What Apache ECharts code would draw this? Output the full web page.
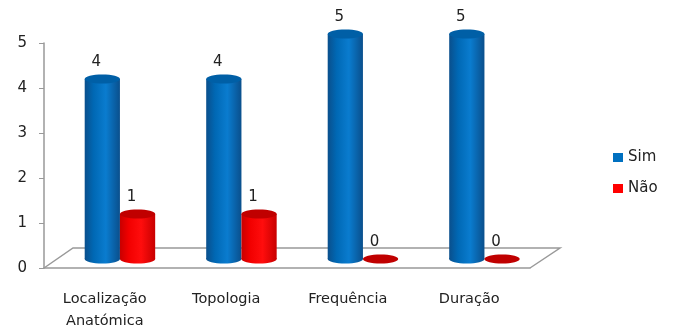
<!DOCTYPE html>
<html>
<head>
<meta charset="utf-8">
<script src="https://cdn.jsdelivr.net/npm/echarts@6/dist/echarts.min.js"></script>
<style>
  html, body { margin: 0; padding: 0; background: #fff; }
  #chart { width: 673px; height: 332px; }
</style>
</head>
<body>
<div id="chart"></div>
<script>
// dados
var categories = ['Localização\nAnatómica', 'Topologia', 'Frequência', 'Duração'];
var simValues = [4, 4, 5, 5];
var naoValues = [1, 1, 0, 0];
var yTicks = [0, 1, 2, 3, 4, 5];

function pairs(vals) {
    return vals.map(function (v, i) { return [i, v]; });
}

// cilindro 3D (custom series)
function cylinder(side, c) {
    return function (params, api) {
        var cat = api.value(0), v = api.value(1);
        var base = api.coord([cat, 0]);
        var top = api.coord([cat, v]);
        var band = api.size([1, 0])[0];
        var w = band * 0.29;
        var cx = base[0] + band * 0.125 + side * w / 2;
        var lift = 9;
        var yb = base[1] - lift, yt = top[1] - lift;
        var rx = w / 2, ry = 4.5;
        var grad = new echarts.graphic.LinearGradient(0, 0, 1, 0, [
            { offset: 0, color: c.edge },
            { offset: 0.25, color: c.body },
            { offset: 0.6, color: c.light },
            { offset: 1, color: c.edge }
        ]);
        var children = [];
        if (v > 0) {
            children.push({ type: 'ellipse', shape: { cx: cx, cy: yb, rx: rx, ry: ry }, style: { fill: grad } });
            children.push({ type: 'rect', shape: { x: cx - rx, y: yt, width: w, height: yb - yt }, style: { fill: grad } });
            children.push({ type: 'ellipse', shape: { cx: cx, cy: yt, rx: rx, ry: ry }, style: { fill: c.top } });
        } else {
            children.push({ type: 'ellipse', shape: { cx: cx, cy: yt, rx: rx, ry: ry }, style: { fill: c.top } });
        }
        children.push({
            type: 'text',
            style: {
                text: String(v), x: cx - 6, y: yt - 9,
                align: 'center', verticalAlign: 'bottom',
                fill: '#222', font: '15px "DejaVu Sans"'
            }
        });
        return { type: 'group', children: children };
    };
}

// chão 3D
function floor(params, api) {
    var band = api.size([1, 0])[0];
    var p0 = api.coord([0, 0]);
    var p3 = api.coord([categories.length - 1, 0]);
    var xl = p0[0] - band / 2, xr = p3[0] + band / 2, y = p0[1];
    return {
        type: 'polyline',
        shape: { points: [[xl, y], [xl + 29, y - 20], [xr + 30, y - 20], [xr, y]] },
        style: { stroke: '#999', lineWidth: 1.5, fill: null }
    };
}

var chart = echarts.init(document.getElementById('chart'));
var option = {
    animation: false,
    grid: { left: 44, right: 143, top: 43, bottom: 62 },
    legend: {
        data: ['Sim', 'Não'],
        orient: 'vertical',
        left: 608, top: 145,
        itemWidth: 10, itemHeight: 9, itemGap: 16,
        icon: 'rect',
        textStyle: { fontSize: 15, color: '#222', fontFamily: 'DejaVu Sans' }
    },
    xAxis: {
        type: 'category',
        data: categories,
        axisLine: { lineStyle: { color: '#999', width: 1.5 } },
        axisTick: { show: false },
        axisLabel: { color: '#222', fontSize: 14.5, fontFamily: 'DejaVu Sans', margin: 20, lineHeight: 22 }
    },
    yAxis: {
        type: 'value',
        min: yTicks[0], max: yTicks[yTicks.length - 1], interval: 1,
        splitLine: { show: false },
        axisLine: { show: true, lineStyle: { color: '#999', width: 1.5 } },
        axisTick: { show: true, length: 5, lineStyle: { color: '#999' } },
        axisLabel: { color: '#222', fontSize: 15, fontFamily: 'DejaVu Sans', margin: 17 }
    },
    series: [
        { name: 'floor', type: 'custom', renderItem: floor, data: [[0, 0]], z: 1, silent: true },
        {
            name: 'Sim', type: 'custom', z: 2,
            itemStyle: { color: '#0070C0' },
            renderItem: cylinder(-1, { edge: '#0a4f8c', body: '#0068b4', light: '#0a7ccf', top: '#005fa6' }),
            data: pairs(simValues)
        },
        {
            name: 'Não', type: 'custom', z: 3,
            itemStyle: { color: '#FF0000' },
            renderItem: cylinder(1, { edge: '#c80000', body: '#f20000', light: '#ff0d0d', top: '#c00000' }),
            data: pairs(naoValues)
        }
    ]
};
chart.setOption(option);
</script>
</body>
</html>
